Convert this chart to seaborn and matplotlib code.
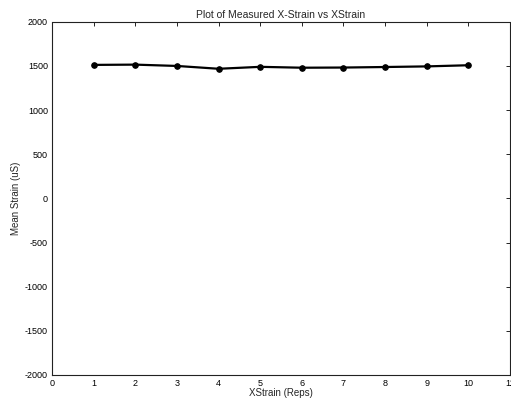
import matplotlib
matplotlib.use("Agg")
import matplotlib.pyplot as plt
import seaborn as sns
import pandas as pd

reps = [1, 2, 3, 4, 5, 6, 7, 8, 9, 10]
mean_strain = [1512, 1515, 1500, 1468, 1490, 1480, 1482, 1488, 1495, 1508]
x_ticks = list(range(0, 12))
y_ticks = list(range(-2000, 2001, 500))

sns.set_theme(style="white")
plt.rcParams['font.family'] = ['Liberation Sans', 'DejaVu Sans']
plt.rcParams['axes.unicode_minus'] = False

df = pd.DataFrame({"reps": reps, "strain": mean_strain})

fig = plt.figure(figsize=(5.11, 4.04), dpi=100)
ax = fig.add_axes([0.102, 0.072, 0.896, 0.874])
sns.lineplot(data=df, x="reps", y="strain", ax=ax, color="black",
             linewidth=1.6, marker="o", markersize=4,
             markeredgecolor="black", markerfacecolor="black")

ax.set_xlim(0, 11)
ax.set_ylim(-2000, 2000)
ax.set_xticks(x_ticks)
ax.set_yticks(y_ticks)
ax.tick_params(direction="in", length=3, width=0.6, labelsize=6.5,
               top=True, right=True, colors="black", pad=3)
for s in ax.spines.values():
    s.set_visible(True)
    s.set_color("#222222")
    s.set_linewidth(0.8)
    s.set_linestyle((0, (2, 1)))

ax.set_title("Plot of Measured X-Strain vs XStrain", fontsize=7.5, pad=3)
ax.set_xlabel("XStrain (Reps)", fontsize=7, labelpad=0)
ax.set_ylabel("Mean Strain (uS)", fontsize=7, labelpad=3)

fig.savefig("out.png", dpi=100)
